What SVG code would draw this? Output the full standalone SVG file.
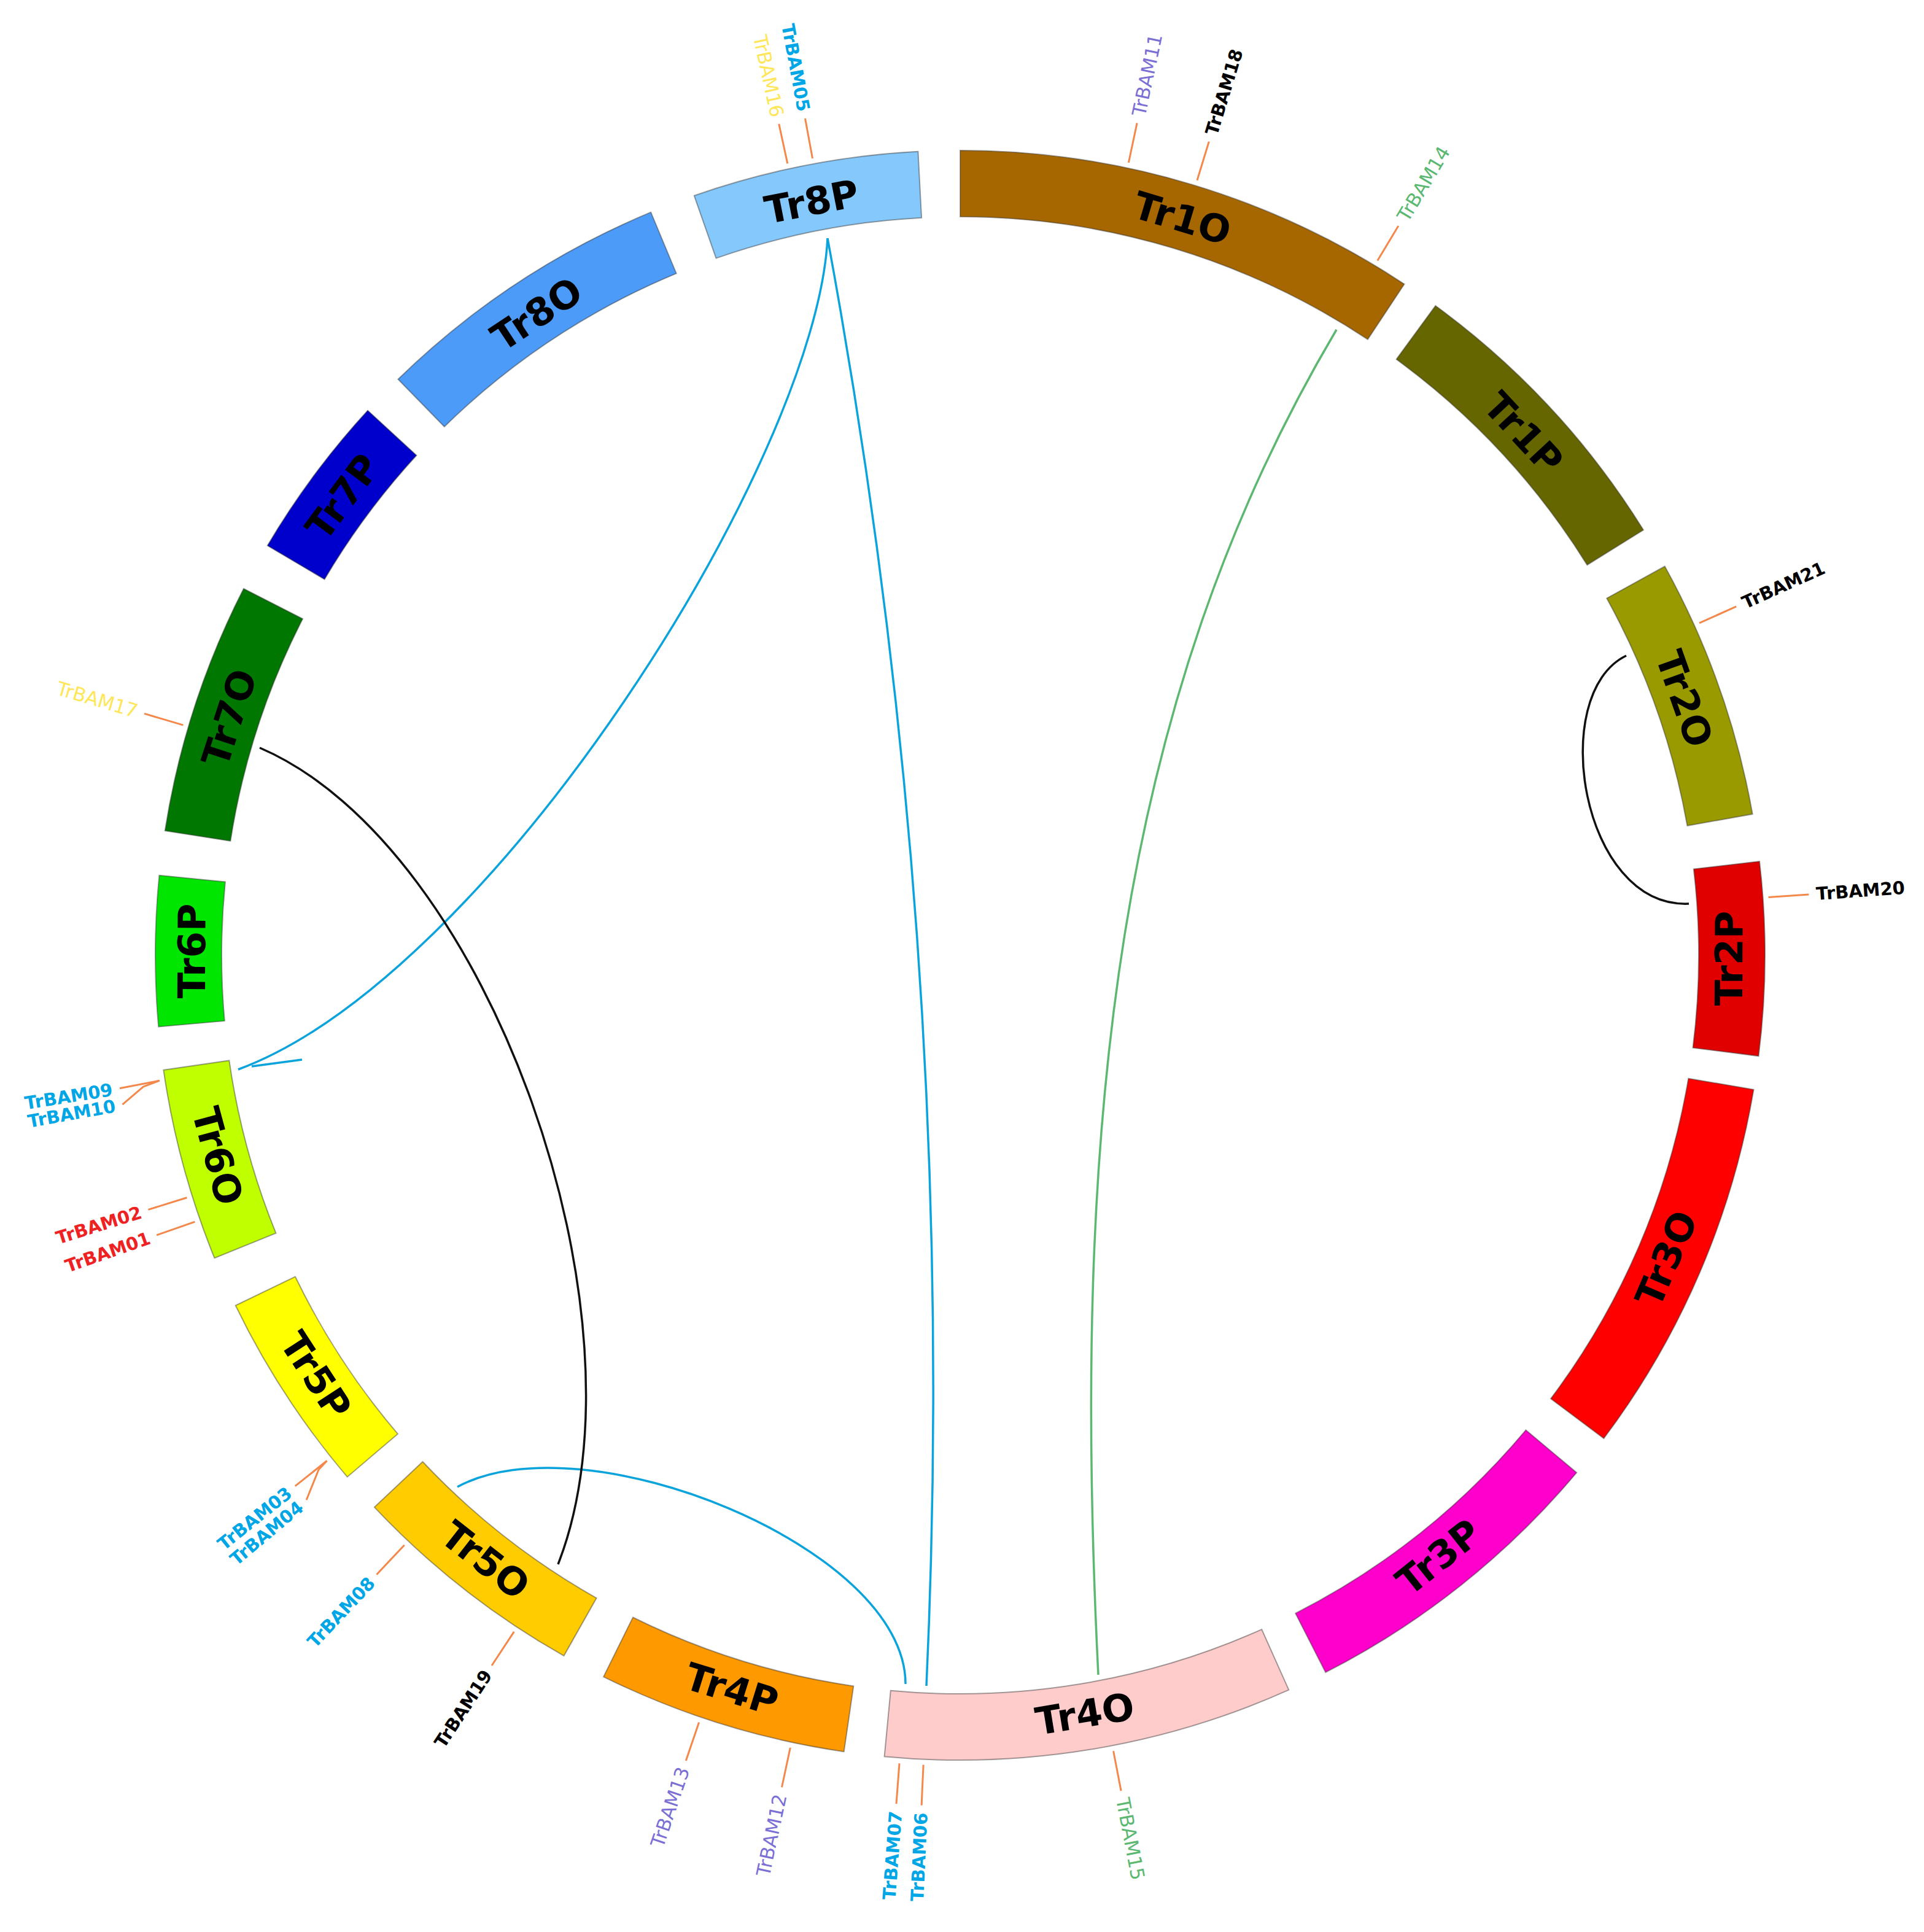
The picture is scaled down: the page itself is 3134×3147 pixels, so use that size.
<svg xmlns="http://www.w3.org/2000/svg" width="3134" height="3147" viewBox="0 0 3134 3147">
<style>
.seg{stroke:#333;stroke-opacity:.45;stroke-width:2}
.sl{font-family:"DejaVu Sans","Liberation Sans",sans-serif;font-weight:bold;font-size:62px;fill:#000;text-anchor:middle}
.gl{font-family:"DejaVu Sans","Liberation Sans",sans-serif;font-weight:bold;font-size:29px}
.gn{font-family:"DejaVu Sans","Liberation Sans",sans-serif;font-weight:normal;font-size:31px}
.s{text-anchor:start}
.e{text-anchor:end}
.tk{stroke:#f4874a;stroke-width:3;fill:none}
.lk{fill:none;stroke-width:3.5}
.cy{fill:#00a6e6}.rd{fill:#ee2222}.pu{fill:#7b6fd6}.gr{fill:#5bb870}.ye{fill:#ffe658}.bk{fill:#000}
</style>
<rect width="3134" height="3147" fill="#fff"/>
<g id="segments">
<g id="Tr1O"><path class="seg" fill="#a66700" d="M1564 245 A1311 1311 0 0 1 2287.5 462.8 L2227.9 552.8 A1203 1203 0 0 0 1564 353 Z"/><text class="sl" x="1926" y="355" dy="0.36em" transform="rotate(16.75 1926 355)">Tr1O</text></g>
<g id="Tr1P"><path class="seg" fill="#666600" d="M2338.3 498 A1311 1311 0 0 1 2677 863.3 L2585.3 920.3 A1203 1203 0 0 0 2274.5 585.2 Z"/><text class="sl" x="2482" y="705" dy="0.36em" transform="rotate(47.15 2482 705)">Tr1P</text></g>
<g id="Tr2O"><path class="seg" fill="#999900" d="M2711.8 922.4 A1311 1311 0 0 1 2854.7 1326.1 L2748.4 1345 A1203 1203 0 0 0 2617.2 974.6 Z"/><text class="sl" x="2744" y="1138" dy="0.36em" transform="rotate(70.5 2744 1138)">Tr2O</text></g>
<g id="Tr2P"><path class="seg" fill="#e00000" d="M2866.1 1403 A1311 1311 0 0 1 2864.6 1720.3 L2757.5 1706.7 A1203 1203 0 0 0 2758.8 1415.6 Z"/><text class="sl" x="2816" y="1561" dy="0.36em" transform="rotate(-89.75 2816 1561)">Tr2P</text></g>
<g id="Tr3O"><path class="seg" fill="#ff0000" d="M2856.6 1774.7 A1311 1311 0 0 1 2612.4 2343.1 L2526 2278.3 A1203 1203 0 0 0 2750.2 1756.7 Z"/><text class="sl" x="2714" y="2050" dy="0.36em" transform="rotate(-66.75 2714 2050)">Tr3O</text></g>
<g id="Tr3P"><path class="seg" fill="#ff00cc" d="M2568.2 2398.7 A1311 1311 0 0 1 2159.2 2724.1 L2110.2 2627.9 A1203 1203 0 0 0 2485.5 2329.3 Z"/><text class="sl" x="2343" y="2536" dy="0.36em" transform="rotate(-38.5 2343 2536)">Tr3P</text></g>
<g id="Tr4O"><path class="seg" fill="#ffcccc" d="M2099.3 2752.7 A1311 1311 0 0 1 1440.6 2861.2 L1450.8 2753.7 A1203 1203 0 0 0 2055.2 2654.1 Z"/><text class="sl" x="1767" y="2791" dy="0.36em" transform="rotate(-9.35 1767 2791)">Tr4O</text></g>
<g id="Tr4P"><path class="seg" fill="#ff9900" d="M1374.7 2853.2 A1311 1311 0 0 1 983.1 2731.3 L1031 2634.5 A1203 1203 0 0 0 1390.3 2746.4 Z"/><text class="sl" x="1192" y="2751" dy="0.36em" transform="rotate(17.3 1192 2751)">Tr4P</text></g>
<g id="Tr5O"><path class="seg" fill="#ffcc00" d="M918.5 2697.1 A1311 1311 0 0 1 609.9 2455.1 L688.5 2381 A1203 1203 0 0 0 971.6 2603.1 Z"/><text class="sl" x="791" y="2541" dy="0.36em" transform="rotate(38.1 791 2541)">Tr5O</text></g>
<g id="Tr5P"><path class="seg" fill="#ffff00" d="M565.7 2405.7 A1311 1311 0 0 1 383.7 2126.5 L480.9 2079.5 A1203 1203 0 0 0 647.9 2335.7 Z"/><text class="sl" x="515" y="2240" dy="0.36em" transform="rotate(56.9 515 2240)">Tr5P</text></g>
<g id="Tr6O"><path class="seg" fill="#bfff00" d="M349.4 2049.2 A1311 1311 0 0 1 266.4 1742.9 L373.3 1727.5 A1203 1203 0 0 0 449.4 2008.6 Z"/><text class="sl" x="355" y="1883" dy="0.36em" transform="rotate(74.85 355 1883)">Tr6O</text></g>
<g id="Tr6P"><path class="seg" fill="#00e600" d="M258.2 1672.5 A1311 1311 0 0 1 259.4 1425.8 L366.9 1436.5 A1203 1203 0 0 0 365.8 1662.9 Z"/><text class="sl" x="312" y="1549" dy="0.36em" transform="rotate(-89.7 312 1549)">Tr6P</text></g>
<g id="Tr7O"><path class="seg" fill="#007700" d="M268.7 1353.2 A1311 1311 0 0 1 396.9 958.8 L493.1 1008 A1203 1203 0 0 0 375.4 1369.9 Z"/><text class="sl" x="373" y="1169" dy="0.36em" transform="rotate(-72 373 1169)">Tr7O</text></g>
<g id="Tr7P"><path class="seg" fill="#0000cc" d="M435.6 888.7 A1311 1311 0 0 1 599 668.6 L678.5 741.7 A1203 1203 0 0 0 528.6 943.7 Z"/><text class="sl" x="558" y="809" dy="0.36em" transform="rotate(-53.4 558 809)">Tr7P</text></g>
<g id="Tr8O"><path class="seg" fill="#4c9bf8" d="M648.4 617.7 A1311 1311 0 0 1 1060.2 345.7 L1101.7 445.4 A1203 1203 0 0 0 723.8 695 Z"/><text class="sl" x="874" y="511" dy="0.36em" transform="rotate(-33.45 874 511)">Tr8O</text></g>
<g id="Tr8P"><path class="seg" fill="#85c8fc" d="M1130.7 318.7 A1311 1311 0 0 1 1495.4 246.8 L1501.1 354.7 A1203 1203 0 0 0 1166.4 420.6 Z"/><text class="sl" x="1322" y="328" dy="0.36em" transform="rotate(-11.15 1322 328)">Tr8P</text></g>
</g>
<g id="connectors">
<path class="lk" stroke="#0aa3dc" d="M1348 388 C1330 750 800 1590 388 1742"/>
<path class="lk" stroke="#0aa3dc" d="M410 1737 L492 1726"/>
<path class="lk" stroke="#0aa3dc" d="M1348 388 Q1564 1556 1509 2746"/>
<path class="lk" stroke="#0aa3dc" d="M745 2422 C950 2310 1475 2520 1475 2743"/>
<path class="lk" stroke="#111" stroke-width="3" d="M423 1218 C800 1380 1065 2150 909 2548"/>
<path class="lk" stroke="#5cb870" stroke-width="3" d="M2177 537 C1820 1139 1744 1828 1789 2728"/>
<path class="lk" stroke="#111" stroke-width="3" d="M2649 1068 C2520 1130 2575 1480 2751 1472"/>
</g>
<g id="gene-labels">
<g id="TrBAM16"><path class="tk" d="M1282.8 266.4 L1268.8 201.9"/><text class="gn e ye" x="1266.2" y="190.2" dy="0.35em" transform="rotate(77.7 1266.2 190.2)">TrBAM16</text></g>
<g id="TrBAM05"><path class="tk" d="M1323.5 258 L1311.5 193.1"/><text class="gl e cy" x="1309.3" y="181.3" dy="0.35em" transform="rotate(79.5 1309.3 181.3)">TrBAM05</text></g>
<g id="TrBAM11"><path class="tk" d="M1838.4 264.9 L1852.1 200.4"/><text class="gn s pu" x="1854.6" y="188.6" dy="0.35em" transform="rotate(-78 1854.6 188.6)">TrBAM11</text></g>
<g id="TrBAM18"><path class="tk" d="M1950 293.7 L1969.3 230.6"/><text class="gl s bk" x="1972.8" y="219.1" dy="0.35em" transform="rotate(-73 1972.8 219.1)">TrBAM18</text></g>
<g id="TrBAM14"><path class="tk" d="M2243.8 424.5 L2277.8 367.9"/><text class="gn s gr" x="2284" y="357.6" dy="0.35em" transform="rotate(-59 2284 357.6)">TrBAM14</text></g>
<g id="TrBAM21"><path class="tk" d="M2768 1014.9 L2828.2 987.9"/><text class="gl s bk" x="2839.1" y="983" dy="0.35em" transform="rotate(-24.2 2839.1 983)">TrBAM21</text></g>
<g id="TrBAM20"><path class="tk" d="M2880.6 1461.6 L2946.4 1456.9"/><text class="gl s bk" x="2958.4" y="1456" dy="0.35em" transform="rotate(-4.1 2958.4 1456)">TrBAM20</text></g>
<g id="TrBAM15"><path class="tk" d="M1813.6 2852.2 L1826.1 2917.1"/><text class="gn s gr" x="1828.4" y="2928.8" dy="0.35em" transform="rotate(79.1 1828.4 2928.8)">TrBAM15</text></g>
<g id="TrBAM06"><path class="tk" d="M1504.1 2874.7 L1501.1 2940.6"/><text class="gl e cy" x="1500.5" y="2952.6" dy="0.35em" transform="rotate(-87.4 1500.5 2952.6)">TrBAM06</text></g>
<g id="TrBAM07"><path class="tk" d="M1465 2872.3 L1460 2938.1"/><text class="gl e cy" x="1459.1" y="2950.1" dy="0.35em" transform="rotate(-85.7 1459.1 2950.1)">TrBAM07</text></g>
<g id="TrBAM12"><path class="tk" d="M1287.3 2846.7 L1273.5 2911.2"/><text class="gn e pu" x="1271" y="2922.9" dy="0.35em" transform="rotate(-77.9 1271 2922.9)">TrBAM12</text></g>
<g id="TrBAM13"><path class="tk" d="M1138.6 2805.5 L1117.3 2868"/><text class="gn e pu" x="1113.4" y="2879.3" dy="0.35em" transform="rotate(-71.2 1113.4 2879.3)">TrBAM13</text></g>
<g id="TrBAM19"><path class="tk" d="M837.3 2657.9 L801 2713"/><text class="gl e bk" x="794.4" y="2723" dy="0.35em" transform="rotate(-56.6 794.4 2723)">TrBAM19</text></g>
<g id="TrBAM08"><path class="tk" d="M658.7 2516.7 L613.5 2564.7"/><text class="gl e cy" x="605.3" y="2573.5" dy="0.35em" transform="rotate(-46.7 605.3 2573.5)">TrBAM08</text></g>
<g id="TrBAM03"><path class="tk" d="M532.4 2379.5 L480.8 2420.7"/><text class="gl e cy" x="471.5" y="2428.2" dy="0.35em" transform="rotate(-38.6 471.5 2428.2)">TrBAM03</text></g>
<g id="TrBAM04"><path class="tk" d="M532.4 2379.5 L519 2394 L499.1 2443.2"/><text class="gl e cy" x="489.9" y="2450.9" dy="0.35em" transform="rotate(-39.8 489.9 2450.9)">TrBAM04</text></g>
<g id="TrBAM09"><path class="tk" d="M259.8 1760.2 L195 1772.8"/><text class="gl e cy" x="183.2" y="1774.6" dy="0.35em" transform="rotate(-9 183.2 1774.6)">TrBAM09</text></g>
<g id="TrBAM10"><path class="tk" d="M259.8 1760.2 L233.5 1770 L199.5 1799.1"/><text class="gl e cy" x="187.7" y="1801.2" dy="0.35em" transform="rotate(-10.3 187.7 1801.2)">TrBAM10</text></g>
<g id="TrBAM02"><path class="tk" d="M304.5 1950.7 L241.5 1970.4"/><text class="gl e rd" x="230" y="1974" dy="0.35em" transform="rotate(-17.4 230 1974)">TrBAM02</text></g>
<g id="TrBAM01"><path class="tk" d="M317.4 1990.1 L255.1 2011.9"/><text class="gl e rd" x="243.7" y="2015.8" dy="0.35em" transform="rotate(-19.2 243.7 2015.8)">TrBAM01</text></g>
<g id="TrBAM17"><path class="tk" d="M298.4 1181.1 L235.1 1162.4"/><text class="gn e ye" x="223.6" y="1159" dy="0.35em" transform="rotate(16.5 223.6 1159)">TrBAM17</text></g>
</g>
</svg>
